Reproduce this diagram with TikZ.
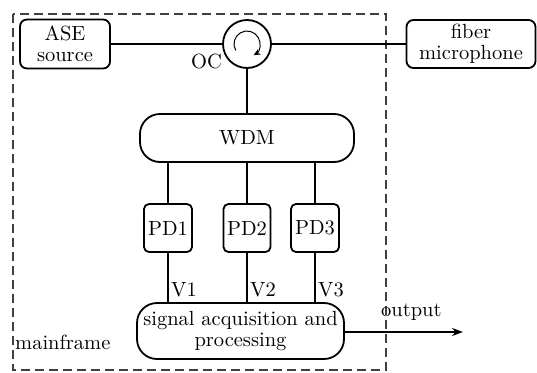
\documentclass[tikz,border=0pt]{standalone}
\usepackage{fontspec}
\setmainfont{lmroman10-regular.otf}
\usetikzlibrary{arrows.meta}
\begin{document}
\begin{tikzpicture}[x=1pt,y=-1pt,
  every node/.style={font=\fontsize{20.5}{20.5}\selectfont},
  block/.style={draw, line width=1.8pt, rounded corners=7pt, align=center, inner sep=0pt},
  pill/.style={draw, line width=1.8pt, rounded corners=20pt, align=center, inner sep=0pt},
  link/.style={line width=1.8pt},
  lbl/.style={inner sep=1pt}]
\useasboundingbox (0,0) rectangle (537,372);
% mainframe enclosure
\draw[line width=1.4pt, black!75, dash pattern=on 9pt off 5pt] (13,14) rectangle (386,370);
% components
\node[block, minimum width=90pt, minimum height=49pt] (ase) at (65,44) {ASE\\source};
\node[draw, circle, line width=1.8pt, minimum size=48pt, inner sep=0pt] (oc) at (247,44) {};
\node[block, minimum width=129pt, minimum height=48pt] (mic) at (471,44) {fiber\\microphone};
\node[pill, minimum width=214pt, minimum height=48pt] (wdm) at (247,138) {WDM};
\node[block, rounded corners=5pt, minimum width=48pt, minimum height=48pt] (pd1) at (168,228) {PD1};
\node[block, rounded corners=5pt, minimum width=47pt, minimum height=48pt] (pd2) at (247,228) {PD2};
\node[block, rounded corners=5pt, minimum width=48pt, minimum height=48pt] (pd3) at (315,228) {PD3};
\node[pill, minimum width=207pt, minimum height=56pt] (sig) at (240.5,331) {signal acquisition and\\processing};
\coordinate (out) at (463,332);
% circulator direction mark (y axis points down, so angles run clockwise)
\draw[line width=1pt, -{Stealth[length=7pt,width=6pt]}] ([shift={(150:13)}]oc.center) arc[start angle=150, end angle=420, radius=13];
% connections
\draw[link] (ase) -- (oc);
\draw[link] (oc) -- (mic);
\draw[link] (oc) -- (wdm);
\draw[link] (pd1.north |- wdm.south) -- (pd1);
\draw[link] (pd2.north |- wdm.south) -- (pd2);
\draw[link] (pd3.north |- wdm.south) -- (pd3);
\draw[link] (pd1) -- (pd1.south |- sig.north);
\draw[link] (pd2) -- (pd2.south |- sig.north);
\draw[link] (pd3) -- (pd3.south |- sig.north);
\draw[link, -{Stealth[length=11pt,width=8pt]}] (sig.east |- out) -- (out);
% labels
\node[lbl, anchor=north east] (oclbl) at (223,53) {OC};
\node[lbl, anchor=west] (v1) at (170,290) {V1};
\node[lbl, anchor=west] (v2) at (249,290) {V2};
\node[lbl, anchor=west] (v3) at (317,290) {V3};
\node[lbl, anchor=west] (outlbl) at (380,312) {output};
\node[lbl, anchor=west] (mf) at (14,342) {mainframe};
\end{tikzpicture}
\end{document}
